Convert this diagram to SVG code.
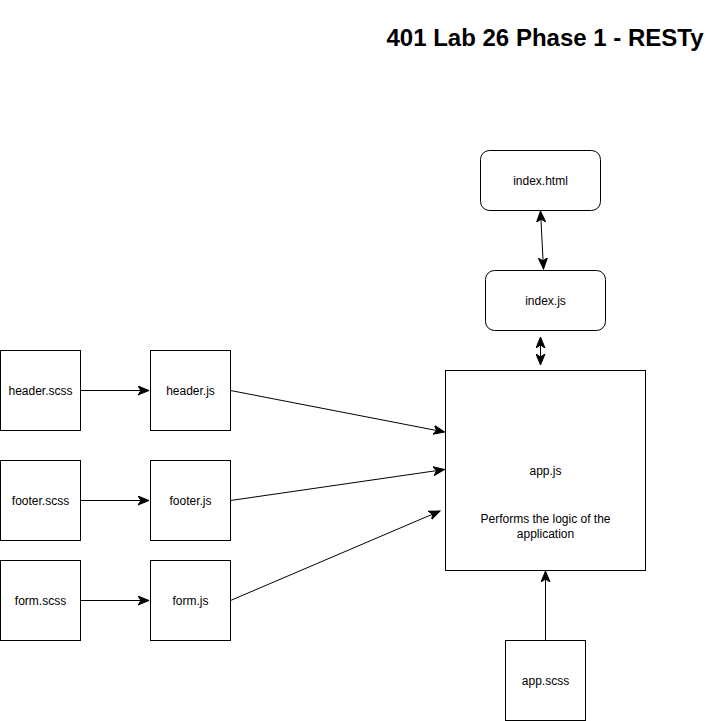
<svg xmlns="http://www.w3.org/2000/svg" width="711" height="721" viewBox="0 0 711 721">
<defs>
<style>
.box{fill:#fff;stroke:#000;stroke-width:1}
.lbl{font-family:"Liberation Sans",Helvetica,Arial,sans-serif;font-size:12px;fill:#000;text-anchor:middle}
.title{font-family:"Liberation Sans",Helvetica,Arial,sans-serif;font-size:24px;font-weight:bold;fill:#000;text-anchor:middle}
.edge{fill:none;stroke:#000;stroke-width:1}
</style>
<marker id="arr" markerUnits="userSpaceOnUse" markerWidth="12" markerHeight="10" viewBox="0 0 12 10" refX="11" refY="5" orient="auto-start-reverse">
<path d="M0,0.5 L11,5 L0,9.5 L3,5 Z" fill="#000" stroke="#000" stroke-width="1"/>
</marker>
</defs>
<rect width="711" height="721" fill="#fff"/>
<text class="title" x="545" y="46">401 Lab 26 Phase 1 - RESTy</text>

<g id="connectors">
<path class="edge" d="M80.5,390.5 L149,390.5" marker-end="url(#arr)"/>
<path class="edge" d="M80.5,500.5 L149,500.5" marker-end="url(#arr)"/>
<path class="edge" d="M80.5,600.5 L149,600.5" marker-end="url(#arr)"/>
<path class="edge" d="M230.5,390.5 L444.5,432" marker-end="url(#arr)"/>
<path class="edge" d="M230.5,500.5 L444.5,469.5" marker-end="url(#arr)"/>
<path class="edge" d="M230.5,600.5 L440,511" marker-end="url(#arr)"/>
<path class="edge" d="M540.5,211 L543.5,269" marker-start="url(#arr)" marker-end="url(#arr)"/>
<path class="edge" d="M540.5,337 L540.5,365" marker-start="url(#arr)" marker-end="url(#arr)"/>
<path class="edge" d="M545.5,640 L545.5,571" marker-end="url(#arr)"/>
</g>

<g id="index-html">
<rect class="box" x="480.5" y="150.5" width="120" height="60" rx="9" ry="9"/>
<text class="lbl" x="540.5" y="184.5">index.html</text>
</g>
<g id="index-js">
<rect class="box" x="485.5" y="270.5" width="120" height="60" rx="9" ry="9"/>
<text class="lbl" x="545.5" y="304.5">index.js</text>
</g>
<g id="app-js">
<rect class="box" x="445.5" y="370.5" width="200" height="200"/>
<text class="lbl" x="545.5" y="475">app.js</text>
<text class="lbl" x="545.5" y="523">Performs the logic of the</text>
<text class="lbl" x="545.5" y="538">application</text>
</g>
<g id="app-scss">
<rect class="box" x="505.5" y="640.5" width="80" height="80"/>
<text class="lbl" x="545.5" y="684.5">app.scss</text>
</g>
<g id="header-scss">
<rect class="box" x="0.5" y="350.5" width="80" height="80"/>
<text class="lbl" x="40.5" y="394.5">header.scss</text>
</g>
<g id="header-js">
<rect class="box" x="150.5" y="350.5" width="80" height="80"/>
<text class="lbl" x="190.5" y="394.5">header.js</text>
</g>
<g id="footer-scss">
<rect class="box" x="0.5" y="460.5" width="80" height="80"/>
<text class="lbl" x="40.5" y="504.5">footer.scss</text>
</g>
<g id="footer-js">
<rect class="box" x="150.5" y="460.5" width="80" height="80"/>
<text class="lbl" x="190.5" y="504.5">footer.js</text>
</g>
<g id="form-scss">
<rect class="box" x="0.5" y="560.5" width="80" height="80"/>
<text class="lbl" x="40.5" y="604.5">form.scss</text>
</g>
<g id="form-js">
<rect class="box" x="150.5" y="560.5" width="80" height="80"/>
<text class="lbl" x="190.5" y="604.5">form.js</text>
</g>
</svg>
